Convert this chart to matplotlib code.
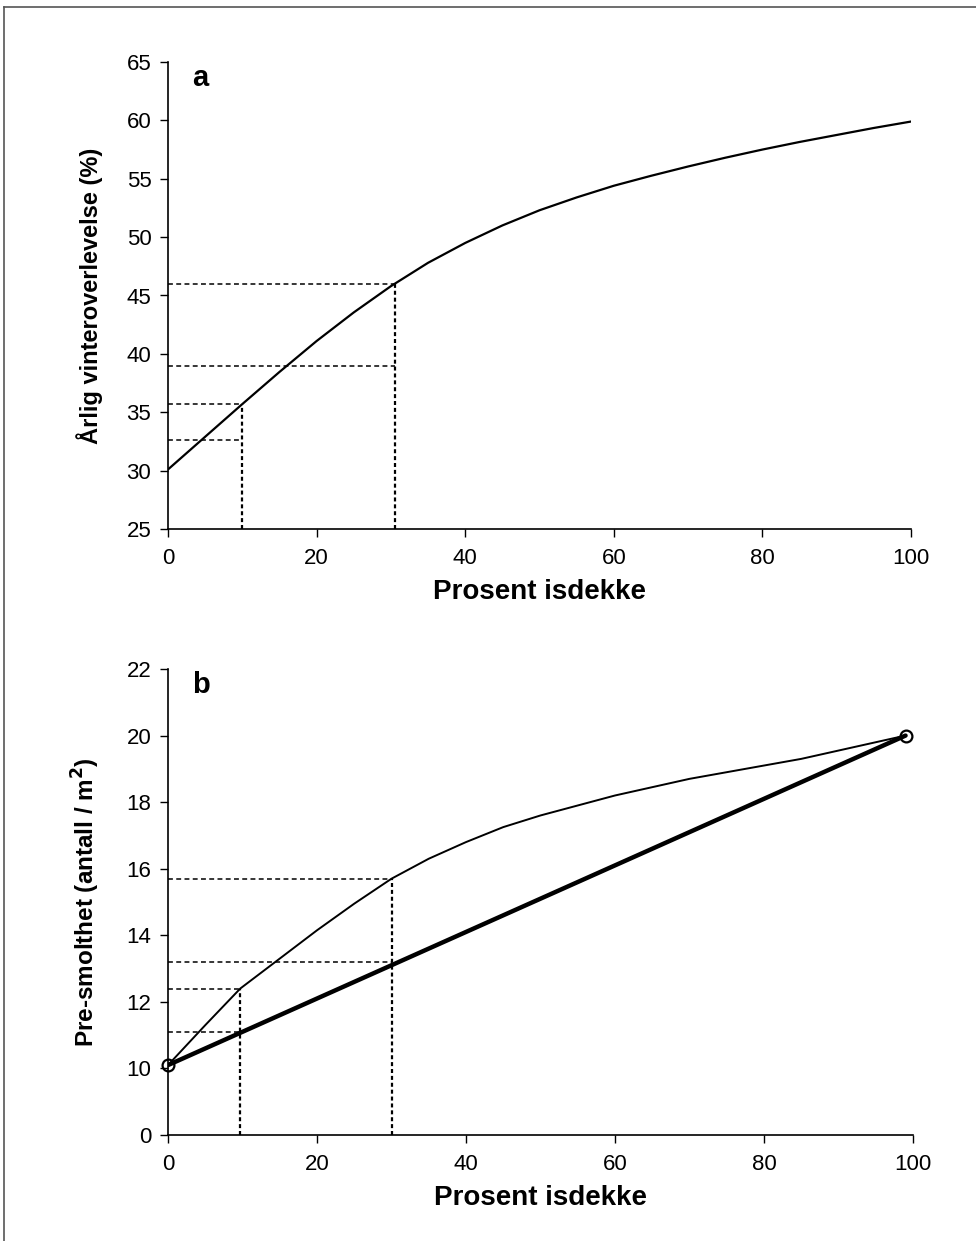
import numpy as np
import matplotlib
matplotlib.use("Agg")
import matplotlib.pyplot as plt
from matplotlib.lines import Line2D

plt.rcParams['font.family'] = ['Liberation Sans', 'DejaVu Sans']

# Panel a: winter survival vs. ice cover
ice_a = [0, 5, 10, 15, 20, 25, 30, 35, 40, 45, 50, 55, 60, 65, 70, 75, 80,
         85, 90, 95, 100]
survival = [30.1, 32.9, 35.7, 38.45, 41.1, 43.55, 45.8, 47.8, 49.5, 51.0,
            52.3, 53.4, 54.4, 55.25, 56.05, 56.8, 57.5, 58.15, 58.75, 59.35,
            59.9]
# reference readings (x, level) for panel a
a_hlines = [(30.5, 46.0), (30.5, 39.0), (10, 35.7), (10, 32.6)]
a_vlines = [(10, 35.7), (30.5, 46.0)]
a_yticks = [25, 30, 35, 40, 45, 50, 55, 60, 65]

# Panel b: pre-smolt density vs. ice cover
ice_b = [0, 5, 9.7, 15, 20, 25, 30, 35, 40, 45, 50, 55, 60, 65, 70, 75, 80,
         85, 90, 95, 99]
density = [10.1, 11.3, 12.4, 13.3, 14.15, 14.95, 15.7, 16.3, 16.8, 17.25,
           17.6, 17.9, 18.2, 18.45, 18.7, 18.9, 19.1, 19.3, 19.55, 19.8, 20.0]
linear_x = [0, 99]
linear_y = [10.1, 20.0]
b_hlines = [(30, 15.7), (30, 13.2), (9.7, 12.4), (9.7, 11.1)]
b_vlines = [(9.7, 12.4), (30, 15.7)]
b_yticks = [0, 10, 12, 14, 16, 18, 20, 22]

xticks = [0, 20, 40, 60, 80, 100]

W, H = 976, 1241
fig = plt.figure(figsize=(W / 100, H / 100), dpi=100)

def ax_rect(l, r, t, b):
    return [l / W, 1 - b / H, (r - l) / W, (b - t) / H]

ax_a = fig.add_axes(ax_rect(168, 911, 62, 529))
ax_b = fig.add_axes(ax_rect(168, 913, 669, 1135))

TICK_FS = 16
XLAB_FS = 20
YLAB_FS = 17
PANEL_FS = 21

def style(ax):
    for s in ('top', 'right'):
        ax.spines[s].set_visible(False)
    for s in ('left', 'bottom'):
        ax.spines[s].set_linewidth(1.2)
    ax.tick_params(direction='out', length=6, width=1.0, labelsize=TICK_FS)
    ax.tick_params(axis='y', pad=6)
    ax.tick_params(axis='x', pad=8)
    ax.set_xticks(xticks)
    ax.set_xlim(0, 100)

dash_h = (0, (3.2, 2.2))
dash_v = (0, (1.8, 1.3))

# ---- panel a ----
style(ax_a)
ax_a.set_ylim(25, 65)
ax_a.set_yticks(a_yticks)
for xe, lv in a_hlines:
    ax_a.plot([0, xe], [lv, lv], color='black', lw=1.1, ls=dash_h)
for xv, top in a_vlines:
    ax_a.plot([xv, xv], [25, top], color='black', lw=1.6, ls=dash_v)
ax_a.plot(ice_a, survival, color='black', lw=1.6, solid_joinstyle='round')
ax_a.set_xlabel('Prosent isdekke', fontsize=XLAB_FS, fontweight='bold',
                labelpad=7)
ax_a.set_ylabel('Årlig vinteroverlevelse (%)', fontsize=YLAB_FS,
                fontweight='bold')
ax_a.yaxis.set_label_coords(-0.088, 0.5)
ax_a.text(0.033, 0.965, 'a', transform=ax_a.transAxes, fontsize=PANEL_FS,
          fontweight='bold', va='center', ha='left')

# ---- panel b: broken scale, 0 to 10 compressed into one tick step ----
def fwd(y):
    y = np.asarray(y, dtype=float)
    return np.where(y >= 10, y, 8 + 0.2 * y)

def inv(t):
    t = np.asarray(t, dtype=float)
    return np.where(t >= 10, t, (t - 8) / 0.2)

style(ax_b)
ax_b.set_yscale('function', functions=(fwd, inv))
ax_b.set_ylim(0, 22)
ax_b.set_yticks(b_yticks)
ax_b.set_yticklabels([str(v) for v in b_yticks])
ax_b.yaxis.set_minor_locator(matplotlib.ticker.NullLocator())
for xe, lv in b_hlines:
    ax_b.plot([0, xe], [lv, lv], color='black', lw=1.1, ls=dash_h)
for xv, top in b_vlines:
    ax_b.plot([xv, xv], [0, top], color='black', lw=1.6, ls=dash_v)
ax_b.plot(ice_b, density, color='black', lw=1.4, solid_joinstyle='round')
ax_b.plot(linear_x, linear_y, color='black', lw=3.2, solid_capstyle='round')
ax_b.plot(linear_x, linear_y, ls='none', marker='o', ms=8.5, mfc='none',
          mec='black', mew=1.6, clip_on=False)
ax_b.set_xlabel('Prosent isdekke', fontsize=XLAB_FS, fontweight='bold',
                labelpad=7)
ax_b.set_ylabel('Pre-smolthet (antall / m$^{\\mathbf{2}}$)', fontsize=YLAB_FS + 0.5,
                fontweight='bold')
ax_b.yaxis.set_label_coords(-0.088, 0.5)
ax_b.text(0.033, 0.965, 'b', transform=ax_b.transAxes, fontsize=PANEL_FS,
          fontweight='bold', va='center', ha='left')

# frame around the figure
fig.add_artist(Line2D([4 / W, 4 / W], [0, 1 - 7 / H], transform=fig.transFigure,
                      color='#555555', lw=1.2))
fig.add_artist(Line2D([4 / W, 1], [1 - 7 / H, 1 - 7 / H],
                      transform=fig.transFigure, color='#555555', lw=1.2))

fig.savefig('out.png', dpi=100)
